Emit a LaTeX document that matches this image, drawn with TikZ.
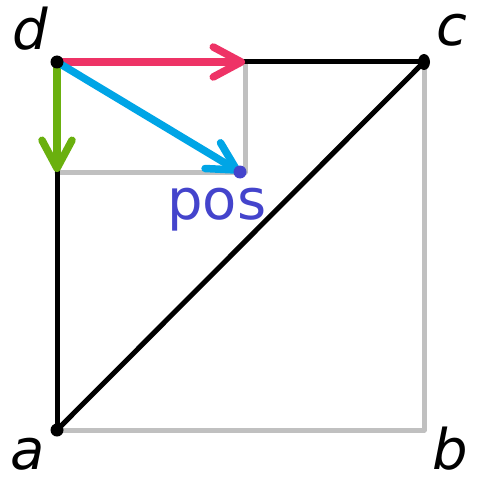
\documentclass[tikz,border=0pt]{standalone}
\usepackage{fontspec}
\setmainfont{DejaVu Sans}
\usepackage{tikz}
\usetikzlibrary{positioning,arrows.meta,calc,shapes.geometric}
\definecolor{rulegray}{HTML}{C0C0C0}
\definecolor{xred}{HTML}{EE3366}
\definecolor{ygreen}{HTML}{6AB00E}
\definecolor{vblue}{HTML}{00A5E6}
\definecolor{posblue}{HTML}{4444CC}

\begin{document}
\begin{tikzpicture}[
  x=1pt, y=-1pt,
  font=\fontsize{56}{66}\selectfont,
  lbl/.style={inner sep=0pt, anchor=base, font=\fontsize{56}{66}\selectfont\itshape},
  guide/.style={draw=rulegray, line width=5pt, line cap=round, line join=round},
  side/.style={draw=black, line width=5pt, line cap=round},
  vec/.style={line width=7.5pt, line cap=round,
              -{Straight Barb[length=28pt, width=30pt, line cap=round, line join=round]}},
  dotpt/.style={circle, fill=black, inner sep=0pt, minimum size=13pt},
]
\useasboundingbox (0,0) rectangle (479,481);

\coordinate (a) at (57,430);
\coordinate (b) at (424,430);
\coordinate (c) at (424,62);
\coordinate (d) at (57,62);
\coordinate (px) at (245,62);
\coordinate (py) at (57,172);
\coordinate (corner) at (245,172);
\coordinate (pos) at (240,172);

% gray guides
\draw[guide] (a) -- (b) -- (c);
\draw[guide] (py) -- (corner) -- (px);

% the square's black sides
\draw[side] (d) -- (c);
\draw[side] (d) -- (a);
\draw[side] (a) -- (c);

% vectors from d
\draw[vec, xred] (d) -- (px);
\draw[vec, ygreen] (d) -- (py);
\draw[vec, vblue] (d) -- (pos);
\node[circle, fill=posblue, inner sep=0pt, minimum size=13pt] (posdot) at (pos) {};

\node[dotpt] (dp) at (d) {};
\node[dotpt] (ap) at (a) {};
\node[ellipse, fill=black, inner sep=0pt, minimum width=12pt, minimum height=16pt] (cp) at (c) {};

\node[lbl] (dl) at (30,50) {d};
\node[lbl] (cl) at (452,46) {c};
\node[lbl] (al) at (28,469) {a};
\node[lbl] (bl) at (450,469) {b};
\node[inner sep=0pt, anchor=base west, text=posblue] (posl) at (167,219) {pos};
\end{tikzpicture}
\end{document}
